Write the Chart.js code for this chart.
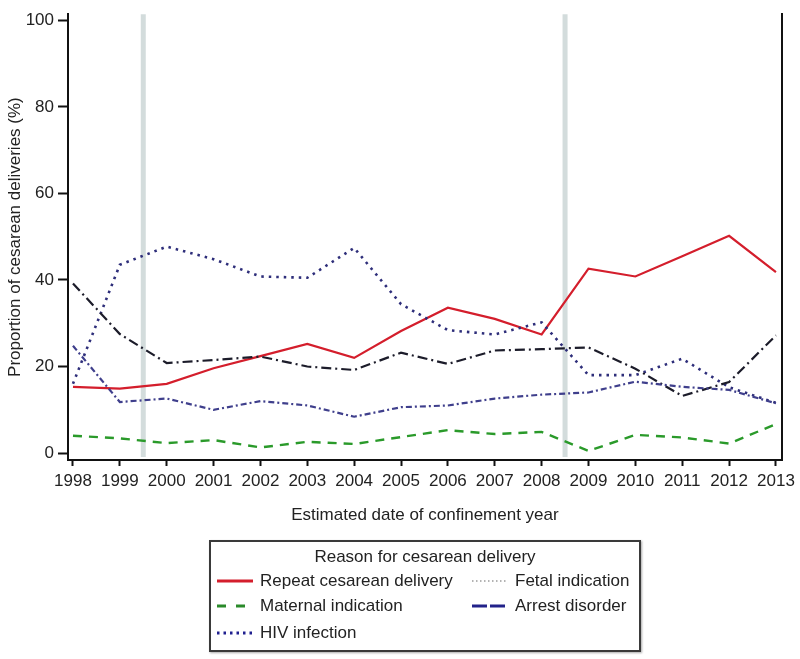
<!DOCTYPE html>
<html>
<head>
<meta charset="utf-8">
<script src="https://cdn.jsdelivr.net/npm/chart.js@4.4.1/dist/chart.umd.min.js"></script>
<style>
html,body{margin:0;padding:0;background:#fff;}
#wrap{position:relative;width:800px;height:659px;overflow:hidden;}
#legend{position:absolute;left:209px;top:540px;width:428px;height:108px;border:2px solid #3a3a3a;box-shadow:1px 1px 2px #aaa;background:#fff;
  font-family:"Liberation Sans",Arial,Helvetica,sans-serif;font-size:17px;color:#222;}
#legend .ttl{position:absolute;left:0;top:5px;width:100%;text-align:center;line-height:20px;}
#legend .item{position:absolute;height:20px;line-height:20px;white-space:nowrap;}
#legend .item svg{position:absolute;left:0;top:0;}
#legend .item span{position:absolute;top:0;}
</style>
</head>
<body>
<div id="wrap">
<canvas id="c" width="800" height="659"></canvas>
<div id="legend"></div>
</div>
<script>
// ---- data ----
const years = [1998,1999,2000,2001,2002,2003,2004,2005,2006,2007,2008,2009,2010,2011,2012,2013];
const repeatCesarean = [15.3,14.9,16.0,19.6,22.4,25.2,22.0,28.2,33.6,31.0,27.4,42.6,40.8,45.5,50.2,41.8];
const maternalIndication = [4.0,3.4,2.3,3.0,1.3,2.6,2.1,3.7,5.3,4.4,4.9,0.5,4.2,3.6,2.2,6.7];
const hivInfection = [16.0,43.5,47.7,44.8,40.8,40.5,47.4,34.4,28.4,27.4,30.2,18.0,18.0,21.8,15.2,11.6];
const fetalIndication = [24.8,11.8,12.6,10.0,12.0,11.0,8.4,10.6,11.0,12.6,13.5,14.0,16.5,15.3,14.6,11.5];
const arrestDisorder = [39.2,27.5,20.8,21.5,22.3,20.0,19.2,23.2,20.6,23.7,24.0,24.4,19.5,13.2,16.4,27.2];
const yTicks = [0,20,40,60,80,100];
const guideYears = [1999.5, 2008.5];
const legendTitle = "Reason for cesarean delivery";
const seriesLabels = ["Repeat cesarean delivery","Maternal indication","HIV infection","Fetal indication","Arrest disorder"];

const FONT = '"Liberation Sans", Arial, Helvetica, sans-serif';
const pts = arr => arr.map((v,i)=>({x:years[i], y:v}));

const guidePlugin = {
  id:'guides',
  beforeDatasetsDraw(chart){
    const {ctx, chartArea, scales} = chart;
    ctx.save();
    ctx.strokeStyle = '#d3dcdc';
    ctx.lineWidth = 5;
    guideYears.forEach(g=>{
      const px = scales.x.getPixelForValue(g);
      ctx.beginPath();
      ctx.moveTo(px, chartArea.top);
      ctx.lineTo(px, chartArea.bottom - 3);
      ctx.stroke();
    });
    ctx.restore();
  }
};

const datasets = [
  {label:seriesLabels[3], data:pts(fetalIndication), borderColor:'#3f3f8c', borderWidth:2.2, borderDash:[6,3,2,3]},
  {label:seriesLabels[4], data:pts(arrestDisorder), borderColor:'#1c1c2a', borderWidth:2.2, borderDash:[10,4,2,4]},
  {label:seriesLabels[2], data:pts(hivInfection), borderColor:'#2e2e7a', borderWidth:2.6, borderDash:[2.5,5]},
  {label:seriesLabels[1], data:pts(maternalIndication), borderColor:'#2a9a2a', borderWidth:2.4, borderDash:[9,7]},
  {label:seriesLabels[0], data:pts(repeatCesarean), borderColor:'#d41e2c', borderWidth:2.2, borderDash:[]}
];
datasets.forEach(d=>{ d.pointRadius=0; d.fill=false; d.tension=0; });

new Chart(document.getElementById('c'), {
  type:'line',
  data:{datasets},
  plugins:[guidePlugin],
  options:{
    responsive:false,
    animation:false,
    events:[],
    layout:{padding:{left:0,right:16,top:12,bottom:129}},
    plugins:{legend:{display:false}, tooltip:{enabled:false}},
    scales:{
      x:{
        type:'linear', min:1997.894, max:2013.128,
        afterBuildTicks:s=>{ s.ticks = years.map(v=>({value:v})); },
        afterFit:s=>{ s.height = 70; },
        border:{display:true,color:'#111',width:2},
        grid:{display:true, drawOnChartArea:false, drawTicks:true, tickLength:6, tickColor:'#111', tickWidth:2},
        ticks:{padding:5, color:'#222', font:{family:FONT,size:17}, maxRotation:0, autoSkip:false, callback:v=>String(v)},
        title:{display:true, text:'Estimated date of confinement year', color:'#222', font:{family:FONT,size:17}, padding:{top:0,bottom:4}}
      },
      y:{
        type:'linear', min:-1.6, max:101.4,
        afterBuildTicks:s=>{ s.ticks = yTicks.map(v=>({value:v})); },
        afterFit:s=>{ s.width = 68; },
        border:{display:true,color:'#111',width:2},
        grid:{display:true, drawOnChartArea:false, drawTicks:true, tickLength:10, tickColor:'#111', tickWidth:2},
        ticks:{padding:4, color:'#222', font:{family:FONT,size:17}},
        title:{display:true, text:'Proportion of cesarean deliveries (%)', color:'#222', font:{family:FONT,size:17}, padding:{top:5,bottom:0}}
      },
      frame:{
        type:'linear', position:'right', min:0, max:1,
        afterFit:s=>{ s.width = 0; },
        border:{display:true,color:'#111',width:2},
        grid:{display:false},
        ticks:{display:false}
      }
    }
  }
});

// ---- HTML legend (real text) ----
const legendSamples = {
  "Repeat cesarean delivery": {color:'#d41e2c', width:3, dash:''},
  "Fetal indication": {color:'#9a9a9a', width:1.6, dash:'1.5,2.5'},
  "Maternal indication": {color:'#2a8a2a', width:3, dash:'9,10'},
  "Arrest disorder": {color:'#22228a', width:3, dash:'15,3'},
  "HIV infection": {color:'#1f1f8f', width:3, dash:'2.5,4'}
};
const legendLayout = [
  [seriesLabels[0], 6, 29], [seriesLabels[3], 261, 29],
  [seriesLabels[1], 6, 54], [seriesLabels[4], 261, 54],
  [seriesLabels[2], 6, 81]
];
const lg = document.getElementById('legend');
const t = document.createElement('div'); t.className='ttl'; t.textContent = legendTitle; lg.appendChild(t);
legendLayout.forEach(([name,left,top])=>{
  const s = legendSamples[name];
  const it = document.createElement('div'); it.className='item';
  it.style.left = left+'px'; it.style.top = top+'px';
  it.innerHTML = '<svg width="36" height="20"><line x1="0" y1="10" x2="36" y2="10" stroke="'+s.color+'" stroke-width="'+s.width+'"'+(s.dash?' stroke-dasharray="'+s.dash+'"':'')+'/></svg>';
  const sp = document.createElement('span'); sp.style.left='43px'; sp.textContent = name; it.appendChild(sp);
  lg.appendChild(it);
});
</script>
</body>
</html>
